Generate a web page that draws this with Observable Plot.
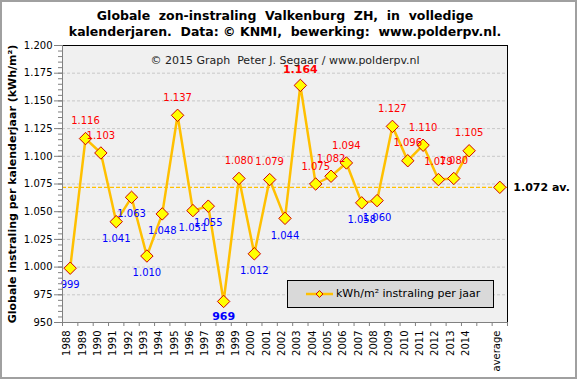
<!DOCTYPE html>
<html>
<head>
<meta charset="utf-8">
<script src="https://cdn.jsdelivr.net/npm/d3@7"></script>
<script src="https://cdn.jsdelivr.net/npm/@observablehq/plot@0.6"></script>
<style>
  html, body { margin: 0; padding: 0; background: #fff; }
  #wrap { position: relative; width: 577px; height: 379px; background: #fff; overflow: hidden; font-family: "DejaVu Sans", sans-serif; }
  #border { position: absolute; left: 0; top: 0; width: 577px; height: 379px; box-sizing: border-box; border: 2px solid #a0a0a0; pointer-events: none; }
  #title { position: absolute; left: 0; top: 8px; width: 570px; text-align: center; font-weight: bold; font-size: 12.5px; line-height: 16px; white-space: pre; color: #000; }
  #chart { position: absolute; left: 0; top: 40px; }
  #legend { position: absolute; left: 287px; top: 280px; width: 207px; height: 28px; box-sizing: border-box; border: 1px solid #000; background: #d9d9d9; }
  #legend svg { position: absolute; left: 0; top: 0; }
  #legend span { position: absolute; left: 48px; top: 5px; font-size: 11px; line-height: 16px; color: #000; white-space: nowrap; }
</style>
</head>
<body>
<div id="wrap">
  <div id="title"></div>
  <div id="chart"></div>
  <div id="legend"></div>
  <div id="border"></div>
</div>
<script>
// ---- data ----
const years = ["1988","1989","1990","1991","1992","1993","1994","1995","1996","1997","1998","1999","2000","2001","2002","2003","2004","2005","2006","2007","2008","2009","2010","2011","2012","2013","2014"];
const values = [999,1116,1103,1041,1063,1010,1048,1137,1051,1055,969,1080,1012,1079,1044,1164,1075,1082,1094,1058,1060,1127,1096,1110,1079,1080,1105];
const avgCategory = "average";
const avgValue = 1072;
const categories = [...years, "", avgCategory];
const yTicks = [950, 975, 1000, 1025, 1050, 1075, 1100, 1125, 1150, 1175, 1200];
const titleLines = ["Globale  zon-instraling  Valkenburg  ZH,  in  volledige", "kalenderjaren.  Data: © KNMI,  bewerking:  www.polderpv.nl."];
const yTitle = "Globale instraling per kalenderjaar (kWh/m²)";
const credit = "© 2015 Graph  Peter J. Segaar / www.polderpv.nl";
const seriesName = "kWh/m² instraling per jaar";
const avgSuffix = " av.";

// ---- helpers ----
const fmt = d3.formatLocale({decimal: ",", thousands: ".", grouping: [3], currency: ["€", ""]}).format(",d");
const rows = years.map((year, i) => ({i, year, v: values[i]}));
const maxV = d3.max(values), minV = d3.min(values);
const above = rows.filter(d => d.v > avgValue && d.v !== maxV);
const below = rows.filter(d => d.v < avgValue && d.v !== minV);
const topRow = rows.filter(d => d.v === maxV);
const bottomRow = rows.filter(d => d.v === minV);
const avgIndex = categories.indexOf(avgCategory);
const xDomain = [-0.5, categories.length - 0.5];
const boundaries = d3.range(categories.length + 1).map(i => i - 0.5);
const minorTicks = d3.range(yTicks[0], yTicks[yTicks.length - 1] + 1, 5);
const catRows = categories.map((c, i) => ({c, i})).filter(d => d.c);

const LINE = "#ffc000", FILL = "#ffff00", EDGE = "#d00000", RED = "#ff0000", BLUE = "#0000ff", AXIS = "#808080";

document.getElementById("title").textContent = titleLines.join("\n");

const plot = Plot.plot({
  width: 577,
  height: 339,
  marginTop: 5,
  marginBottom: 57,
  marginLeft: 62,
  marginRight: 70,
  style: {fontFamily: "DejaVu Sans", fontSize: "10px", background: "transparent", overflow: "visible", color: "#000"},
  x: {type: "linear", domain: xDomain},
  y: {type: "linear", domain: [yTicks[0], yTicks[yTicks.length - 1]]},
  marks: [
    Plot.frame({fill: "#f0f0f0", stroke: null}),
    Plot.gridY(yTicks.slice(1, -1), {stroke: "#c8c8c8", strokeOpacity: 1, strokeDasharray: "3,2"}),
    Plot.ruleY([avgValue], {stroke: LINE, strokeWidth: 1.3, strokeDasharray: "4,2"}),
    Plot.line(rows, {x: "i", y: "v", stroke: LINE, strokeWidth: 2.5}),
    Plot.dot(rows, {x: "i", y: "v", symbol: "diamond2", r: 5.6, fill: FILL, stroke: EDGE, strokeWidth: 1}),
    Plot.dot([avgValue], {x: () => avgIndex, y: d => d, symbol: "diamond2", r: 5.6, fill: FILL, stroke: EDGE, strokeWidth: 1}),
    Plot.text(above, {x: "i", y: "v", text: d => fmt(d.v), dy: -17.5, fill: RED, fontSize: 10}),
    Plot.text(below, {x: "i", y: "v", text: d => fmt(d.v), dy: 17, fill: BLUE, fontSize: 10}),
    Plot.text(topRow, {x: "i", y: "v", text: d => fmt(d.v), dy: -16, fill: RED, fontSize: 11, fontWeight: "bold"}),
    Plot.text(bottomRow, {x: "i", y: "v", text: d => fmt(d.v), dy: 15, fill: BLUE, fontSize: 11, fontWeight: "bold"}),
    Plot.text([avgValue], {x: () => avgIndex, y: d => d, text: d => fmt(d) + avgSuffix, dx: 13.5, textAnchor: "start", fontSize: 11, fontWeight: "bold", fill: "#000"}),
    Plot.text([credit], {frameAnchor: "top", dy: 11, fontSize: 11, fill: "#222"}),
    Plot.frame({stroke: "#000"}),
    Plot.ruleY([yTicks[0]], {stroke: AXIS}),
    Plot.ruleX([xDomain[0]], {stroke: AXIS}),
    Plot.axisY(minorTicks, {tickSize: 4, tickFormat: () => "", stroke: AXIS, label: null}),
    Plot.axisY(yTicks, {tickSize: 8, tickFormat: () => "", stroke: AXIS, label: null}),
    Plot.axisY(yTicks, {tickSize: 0, tickPadding: 10, tickFormat: fmt, fill: "#000", fontSize: 10, label: null}),
    Plot.axisX(boundaries, {tickSize: 4, tickFormat: () => "", stroke: AXIS, label: null}),
    Plot.text(catRows, {x: "i", text: "c", frameAnchor: "bottom", dy: 8, rotate: -90, textAnchor: "end", fontSize: 10, fill: "#000"}),
    Plot.text([yTitle], {frameAnchor: "left", dx: -50, rotate: -90, textAnchor: "middle", fontSize: 11, fontWeight: "bold", fill: "#000"})
  ]
});
document.getElementById("chart").appendChild(plot);

// legend
const legend = document.getElementById("legend");
const ns = "http://www.w3.org/2000/svg";
const lsvg = document.createElementNS(ns, "svg");
lsvg.setAttribute("width", "60"); lsvg.setAttribute("height", "26");
const ln = document.createElementNS(ns, "line");
ln.setAttribute("x1", "18"); ln.setAttribute("x2", "45"); ln.setAttribute("y1", "13"); ln.setAttribute("y2", "13");
ln.setAttribute("stroke", LINE); ln.setAttribute("stroke-width", "2.5");
lsvg.appendChild(ln);
const dm = document.createElementNS(ns, "path");
dm.setAttribute("d", d3.symbol(d3.symbolDiamond2, 30)());
dm.setAttribute("transform", "translate(31.5,13)");
dm.setAttribute("fill", FILL); dm.setAttribute("stroke", EDGE); dm.setAttribute("stroke-width", "1");
lsvg.appendChild(dm);
legend.appendChild(lsvg);
const sp = document.createElement("span");
sp.textContent = seriesName;
legend.appendChild(sp);
</script>
</body>
</html>
